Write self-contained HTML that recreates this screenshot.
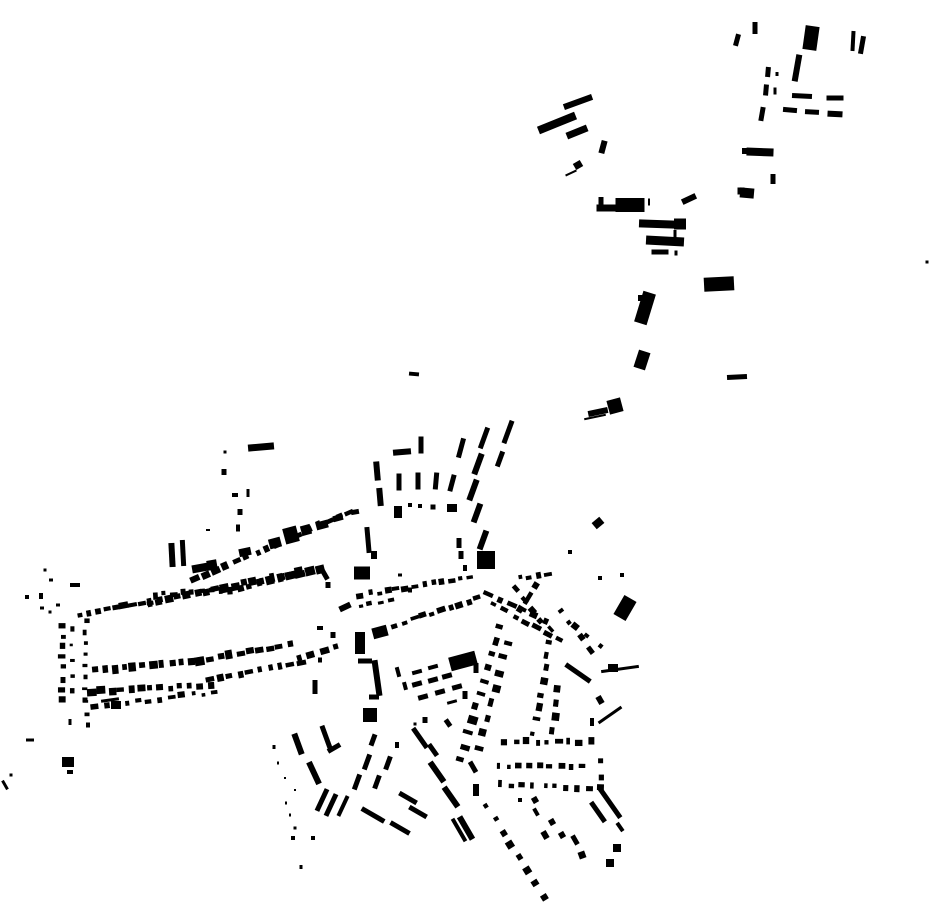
<!DOCTYPE html>
<html><head><meta charset="utf-8"><style>
html,body{margin:0;padding:0;background:#fff;width:930px;height:924px;overflow:hidden}
svg{display:block}
</style></head><body>
<svg id="m" width="930" height="924" viewBox="0 0 930 924" xmlns="http://www.w3.org/2000/svg"><g id="g" fill="#000"></g></svg>
<script>
var out=[];
function R(cx,cy,w,h,a){a=a||0;out.push('<rect x="'+(cx-w/2)+'" y="'+(cy-h/2)+'" width="'+w+'" height="'+h+'" transform="rotate('+a+' '+cx+' '+cy+')"/>');}
var seed=7;function rnd(){seed=(seed*9301+49297)%233280;return seed/233280;}
function row(x1,y1,x2,y2,n,w,h){var ang=Math.atan2(y2-y1,x2-x1)*180/Math.PI;for(var i=0;i<n;i++){var t=n==1?0:i/(n-1);var cx=x1+(x2-x1)*t+(rnd()-0.5)*3,cy=y1+(y2-y1)*t+(rnd()-0.5)*3;R(cx,cy,w*(0.6+rnd()*0.8),h*(0.7+rnd()*0.6),ang);}}
// top-right cluster
var S=[
[755,28,5,12,0],[737,40,5,12,15],[811,38,14,24,8],[853,41,4,20,3],[862,45,5,18,10],
[797,68,6,27,10],[768,72,5,10,5],[777,74,3,4,0],[766,90,5,11,5],[775,91,3,7,0],[762,114,5,14,10],
[802,96,20,5,3],[835,98,17,5,0],[790,110,14,5,5],[812,112,14,5,3],[835,114,15,6,3],
[578,102,30,6,-20],[557,123,40,8,-22],[577,132,22,7,-22],[603,147,6,13,15],[578,165,8,7,-30],[571,173,12,2,-25],
[630,205,29,14,0],[606,208,19,7,0],[601,201,5,8,0],[649,202,2,7,0],[689,199,15,6,-25],
[657,224,36,8,2],[680,224,12,11,0],[675,234,3,8,0],[665,241,38,9,3],[660,252,17,5,0],[676,253,3,5,0],
[719,284,30,14,-3],[645,308,13,32,17],[641,298,6,6,0],[642,360,12,18,18],[737,377,20,5,-3],
[615,406,14,14,-15],[598,412,20,6,-12],[595,417,22,2,-12],
[760,152,27,8,2],[745,151,6,6,0],[773,179,5,10,0],[747,193,14,10,5],[741,191,7,7,0],
[927,262,3,3,0],[414,374,10,4,5],[261,447,26,7,-5],
// north block
[402,452,18,6,-5],[421,445,5,17,0],[461,448,5,20,15],[484,438,5,22,20],[508,432,5,24,20],[500,459,5,16,20],
[377,471,6,19,-5],[399,482,5,17,0],[418,481,5,17,0],[436,481,5,17,5],[452,483,5,17,15],[478,464,6,22,20],
[473,490,6,22,20],[380,497,6,18,-5],[477,513,6,20,20],[483,540,6,20,20],[486,560,18,18,0],
[459,543,5,10,0],[461,555,5,8,0],[465,568,4,6,0],[410,505,4,4,0],[420,506,4,4,0],[433,507,5,5,0],[452,508,10,8,0],[398,512,8,12,0],
// small scattered north-west
[225,452,3,3,0],[224,472,5,6,0],[235,495,6,4,0],[248,493,3,8,0],[240,512,5,6,0],[238,528,4,7,0],[208,530,4,2,0],
[172,555,6,24,-3],[183,553,5,26,-3],[200,568,16,8,-10],[212,565,10,10,-10],[245,552,12,8,-12],[275,543,12,10,-15],
[291,535,14,16,-15],[306,530,10,10,-15],[322,525,12,8,-15],[338,518,10,6,-15],[355,512,8,5,-10],
[368,540,5,26,-5],[374,555,6,8,0],[362,573,16,13,0],[325,575,5,10,-30],[328,585,5,6,0],[345,607,12,6,-25],
[400,575,4,3,0],[410,590,4,5,0],
[360,643,10,22,0],[380,632,15,11,-15],[365,661,14,5,0],[377,678,6,36,-8],[374,697,10,5,0],[370,715,14,14,0],
[333,635,5,6,0],[320,628,6,4,0],[320,660,4,5,0],[315,687,5,14,0],
[463,661,27,14,-15],[417,672,10,4,-15],[433,667,10,4,-15],[417,684,10,5,-15],[433,680,10,5,-15],[447,676,10,5,-15],
[423,697,10,5,-15],[440,692,10,5,-15],[457,687,10,5,-15],[452,702,10,3,-15],[398,672,4,10,-15],[405,686,4,8,-15],
// south-west group
[298,744,6,22,-20],[326,737,5,24,-20],[334,748,14,5,-30],[314,773,6,24,-25],[322,800,5,24,25],[331,805,5,24,25],[343,806,4,22,25],
[373,815,5,26,-60],[400,828,5,22,-60],[408,798,5,20,-60],[418,812,5,20,-60],
[373,740,5,12,20],[367,762,5,16,20],[357,782,5,16,20],[388,763,5,14,20],[377,782,5,14,20],[397,745,4,6,0],
[274,747,3,4,0],[278,763,2,3,0],[285,778,2,2,0],[295,790,2,2,0],[313,838,4,4,0],[301,867,3,4,0],[293,838,4,4,0],[286,803,2,3,0],[290,815,2,3,0],[295,828,3,3,0],
// center roads
[437,772,6,24,-35],[451,797,6,24,-35],[466,828,6,26,-30],[459,830,4,26,-30],[420,738,5,24,-35],[433,750,5,14,-35],
[448,723,5,8,-35],[425,720,5,6,0],[415,724,3,3,0],[473,767,5,12,-30],
[465,695,5,8,0],[476,668,5,10,0],[476,790,6,12,0],
// right-center
[625,608,14,22,30],[613,668,10,8,0],[620,669,38,3,-8],[578,673,5,30,-55],[600,700,6,8,-30],[610,715,3,28,55],[592,722,4,8,0],
[610,803,5,36,-35],[598,812,5,24,-35],[620,827,4,10,-35],[610,863,8,8,0],[582,855,7,7,-20],[617,848,8,8,0],
[600,578,4,4,0],[622,575,4,4,0],[570,552,4,4,0],[598,523,10,8,-40],
[536,812,4,8,-30],[552,822,6,6,-30],[562,835,6,6,-30],[575,840,5,10,-30],[545,835,6,8,-30],[535,800,6,6,-30],[520,800,4,4,0],
// misc west
[30,740,8,3,0],[68,762,12,10,0],[70,772,6,4,0],[5,785,3,10,-30],[11,775,3,3,0],[70,722,3,6,0],[88,725,4,5,0],
[27,597,4,4,0],[41,596,4,6,0],[51,580,4,3,0],[45,570,3,3,0],[75,585,10,4,0],[42,608,4,3,0],[50,612,3,3,0],[85,700,5,5,0],
[116,705,10,8,0],[110,700,18,3,-8],[58,605,4,3,0]
];
S.forEach(function(s){R(s[0],s[1],s[2],s[3],s[4]);});
// rows
row(80,615,160,600,10,7,5);
row(150,603,300,572,17,7,7);
row(155,595,230,590,9,6,6);
row(240,588,320,568,9,8,7);
row(195,580,350,512,16,7,6);
row(95,670,200,660,12,7,7);
row(200,660,290,645,10,8,7);
row(92,692,210,685,13,7,6);
row(210,680,300,662,10,7,6);
row(95,707,215,692,12,6,5);
row(300,658,335,648,4,7,6);
row(62,625,62,700,8,5,6);
row(86,620,86,713,9,4,5);
row(72,630,72,690,5,4,4);
row(360,595,470,578,13,6,5);
row(395,625,478,598,10,7,5);
row(360,606,390,600,4,5,4);
row(488,595,545,620,6,8,5);
row(492,605,560,640,7,8,5);
row(520,578,548,573,4,6,5);
row(535,585,520,610,3,10,5);
row(500,627,460,760,11,6,8);
row(507,643,480,747,8,6,7);
row(550,643,533,733,8,6,6);
row(558,688,553,730,4,6,6);
row(505,742,590,742,9,6,6);
row(497,766,582,767,9,5,5);
row(500,785,600,788,10,5,6);
row(600,778,600,760,2,5,5);
row(487,807,543,897,8,6,6);
row(515,590,550,630,5,6,5);
row(560,610,590,650,4,6,5);
row(575,625,600,645,3,6,5);
document.getElementById('g').innerHTML=out.join('');
</script>
</body></html>
